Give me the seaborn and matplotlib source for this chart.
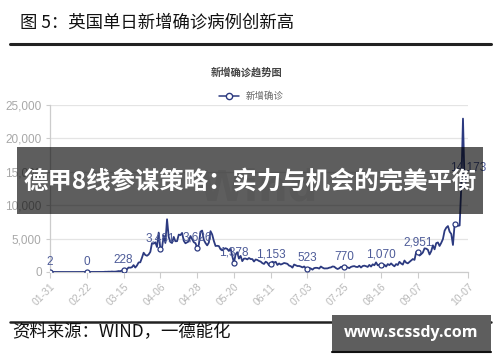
import pandas as pd
import matplotlib
matplotlib.use("Agg")
import matplotlib.pyplot as plt
from matplotlib.patches import Rectangle
from matplotlib.lines import Line2D
import seaborn as sns

sns.set_theme(style="white")
plt.rcParams['font.family'] = ['Noto Sans CJK SC', 'DejaVu Sans']

# ---- Data: UK daily new confirmed cases, 2020-01-31 .. 2020-10-07 ----
jan = [2]
feb = [0, 0, 0, 0, 0, 1, 0, 0, 2, 4, 0, 1, 0, 0, 0, 0, 0, 0, 0, 0,
       0, 0, 0, 0, 4, 0, 2, 5, 4]
mar = [12, 4, 11, 34, 30, 48, 43, 67, 48, 52, 83, 134, 117, 208, 228, 152,
       407, 676, 643, 714, 1035, 665, 967, 1427, 1452, 2129, 2885, 2546,
       2433, 2619, 3009]
apr = [4324, 4244, 4450, 3735, 5903, 3481, 3634, 5491, 4344, 7900, 5234,
       4489, 4342, 5252, 4603, 4617, 5599, 5526, 5850, 4676, 4301, 4451,
       4583, 5386, 4913, 4463, 4309, 3626, 4076, 6032]
may = [6201, 4806, 4339, 3985, 4406, 6111, 5614, 4649, 3896, 3923, 3877,
       3403, 3242, 3446, 3560, 3451, 3142, 3534, 2412, 1378, 2615, 2959,
       2012, 2409, 1625, 2004, 2013, 1887, 2095, 1936, 1936]
jun = [1570, 1871, 1805, 1650, 1557, 1326, 1205, 1541, 1387, 1003, 1153,
       1541, 1425, 1514, 1056, 1279, 1115, 1218, 1346, 1295, 1221, 958,
       874, 653, 1118, 1006, 890, 901, 815, 689]
jul = [829, 576, 523, 624, 516, 352, 581, 630, 612, 512, 820, 650, 530,
       538, 544, 642, 687, 827, 796, 582, 445, 560, 769, 767, 770, 747,
       685, 581, 763, 846, 880]
aug = [771, 744, 938, 670, 892, 950, 871, 758, 1062, 816, 1148, 1009, 1441,
       1012, 1077, 1070, 713, 1089, 812, 1182, 1033, 1288, 1041, 853, 1184,
       1048, 1522, 1276, 1108, 1715, 1406]
sep = [1295, 1508, 1735, 1940, 1813, 2988, 2951, 2460, 2659, 2919, 3539,
       3497, 3330, 2621, 3105, 3991, 3395, 4322, 4422, 3899, 4368, 4926,
       6178, 6634, 6874, 6042, 5693, 4044, 7143, 7108]
oct_ = [6914, 6968, 12872, 22961, 12594, 14542, 14173]

cases = jan + feb + mar + apr + may + jun + jul + aug + sep + oct_
dates = pd.date_range("2020-01-31", "2020-10-07", freq="D")
df = pd.DataFrame({"date": dates, "cases": cases})

# points that carry a marker, points that carry a value label, x ticks
mark_idx = [0, 22, 44, 66, 88, 110, 132, 154, 176, 198, 220, 242, 250]
label_idx = [0, 22, 44, 66, 88, 110, 132, 154, 176, 198, 220, 250]
tick_idx = [0, 22, 44, 66, 88, 110, 132, 154, 176, 198, 220, 250]
y_ticks = [0, 5000, 10000, 15000, 20000, 25000]

navy = "#2c3a80"
label_col = "#4d5b98"
narrow = ['Liberation Sans Narrow', 'Liberation Sans', 'DejaVu Sans']

fig = plt.figure(figsize=(5, 3.62), dpi=100)
W, H = 500, 362

def fx(px):
    return px / W

def fy(py):
    return 1 - py / H

# ---- header ----
fig.text(fx(20), fy(23), "图 5：英国单日新增确诊病例创新高", fontsize=12.5,
         color="#111111", ha="left", va="center")
fig.add_artist(Line2D([fx(10), fx(491)], [fy(44), fy(44)], color="#222222",
                      lw=2.2, transform=fig.transFigure))

# ---- chart ----
ax = fig.add_axes([fx(50), fy(272), fx(468) - fx(50), fy(105) - fy(272)])
ax.text(0.5, 0.5, "Wind", transform=ax.transAxes, fontsize=30,
        fontweight="bold", color="#efefef", ha="center", va="center",
        family=['DejaVu Sans'], zorder=0)
sns.lineplot(data=df, x="date", y="cases", color=navy, linewidth=1.3, ax=ax,
             zorder=3)
mk = df.iloc[mark_idx]
ax.plot(mk["date"], mk["cases"], "o", ms=3.6, mfc="white", mec=navy,
        mew=0.9, zorder=4)
lb = df.iloc[label_idx]
for d, v in zip(lb["date"], lb["cases"]):
    ax.annotate(f"{v:,}", (d, v), xytext=(0, 3), textcoords="offset points",
                ha="center", va="bottom", fontsize=8.5, color=label_col,
                family=narrow, zorder=5)

ax.set_xlim(dates[0], dates[-1])
ax.set_ylim(0, 25000)
ax.set_yticks(y_ticks)
ax.set_yticklabels([f"{t:,}" for t in y_ticks], family=narrow, fontsize=8.5,
                   color="#a8a8a8")
ax.set_xticks(dates[tick_idx])
ax.set_xticklabels([d.strftime("%m-%d") for d in dates[tick_idx]],
                   rotation=45, ha="right", rotation_mode="anchor",
                   family=narrow, fontsize=7.5, color="#b8b8b8")
ax.grid(axis="y", color="#e4e4e4", lw=0.9)
ax.grid(axis="x", visible=False)
for s in ["top", "right"]:
    ax.spines[s].set_visible(False)
for s in ["left", "bottom"]:
    ax.spines[s].set_color("#cccccc")
    ax.spines[s].set_linewidth(0.9)
ax.tick_params(axis="y", length=3, width=0.8, color="#cccccc", pad=3,
               left=True)
ax.tick_params(axis="x", length=4, width=0.8, color="#cccccc", pad=3,
               bottom=True)
ax.set_xlabel("")
ax.set_ylabel("")

fig.text(fx(247), fy(72), "新增确诊趋势图", fontsize=7.4, fontweight="bold",
         color="#444444", ha="center", va="center")
fig.add_artist(Line2D([fx(219), fx(239)], [fy(96), fy(96)], color=navy,
                      lw=1.1, transform=fig.transFigure))
fig.add_artist(Line2D([fx(229)], [fy(96)], color=navy, lw=0, marker="o",
                      ms=4.5, mfc="white", mec=navy, mew=1,
                      transform=fig.transFigure))
fig.text(fx(246), fy(96), "新增确诊", fontsize=6.8, color="#666666",
         ha="left", va="center")

# ---- overlay banner ----
fig.add_artist(Rectangle((fx(17), fy(214)), fx(483) - fx(17),
                         fy(147) - fy(214), transform=fig.transFigure,
                         facecolor="black", alpha=0.63, edgecolor="none",
                         zorder=10))
fig.text(fx(250), fy(182), "德甲8线参谋策略：实力与机会的完美平衡",
         fontsize=17.6, fontweight="bold", color="white", ha="center",
         va="center", zorder=11)

# ---- footer ----
fig.add_artist(Line2D([fx(10), fx(491)], [fy(322), fy(322)],
                      color="#222222", lw=1.8, transform=fig.transFigure))
fig.text(fx(12), fy(332), "资料来源：WIND，一德能化", fontsize=12.5,
         color="#111111", ha="left", va="center")
fig.add_artist(Rectangle((fx(332), fy(351)), fx(491) - fx(332),
                         fy(315) - fy(351), transform=fig.transFigure,
                         facecolor="#5e5e5e", edgecolor="none", zorder=10))
fig.add_artist(Line2D([fx(332), fx(491)], [fy(351.5), fy(351.5)],
                      color="#111111", lw=1.5, transform=fig.transFigure,
                      zorder=11))
fig.text(fx(411), fy(333), "www.scssdy.com", fontsize=11.5,
         fontweight="bold", color="white", ha="center", va="center",
         family=['Open Sans', 'DejaVu Sans'], zorder=12)

fig.savefig("out.png", dpi=100)
